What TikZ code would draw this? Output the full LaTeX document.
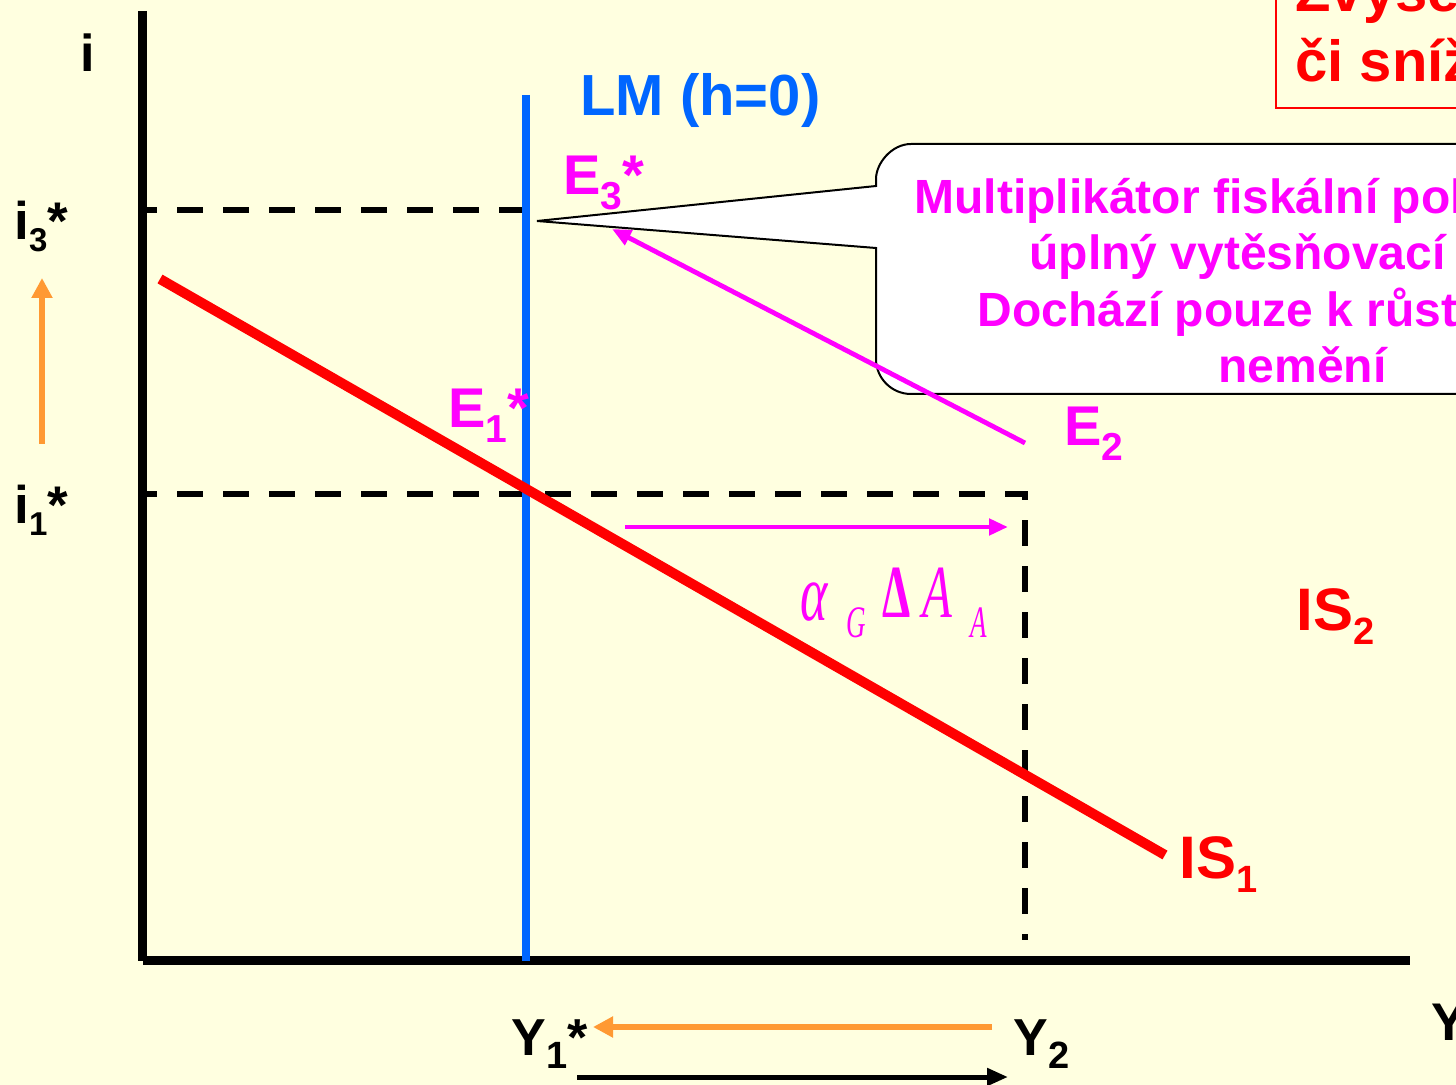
\documentclass[tikz,border=0pt]{standalone}
\usepackage{fontspec}
\setmainfont{Liberation Sans}
\newfontfamily\tms{Liberation Serif}
\usetikzlibrary{arrows.meta}
\definecolor{bgc}{HTML}{FFFFE0}
\definecolor{mag}{HTML}{FF00FF}
\definecolor{lmblue}{HTML}{0066FF}
\definecolor{orng}{HTML}{FF9933}
\definecolor{isred}{HTML}{FF0000}
\newcommand\fsz[1]{\fontsize{#1}{#1}\selectfont}
\begin{document}
\begin{tikzpicture}[x=0.5pt,y=-0.5pt,
  lab/.style={inner sep=0pt,anchor=base west,font=\bfseries},
  greek/.style={inner sep=0pt,anchor=base west,text=mag},
  axis/.style={line width=4.5pt,black},
  guide/.style={line width=3pt,black,dash pattern=on 13pt off 10pt,dash phase=8pt},
  magarrow/.style={draw=mag,line width=2.4pt,-{Triangle[length=9.5pt,width=8pt]}},
  orarrow/.style={draw=orng,line width=3pt,-{Triangle[length=10pt,width=10pt]}},
  blkarrow/.style={draw=black,line width=2.5pt,-{Triangle[length=10.5pt,width=8.5pt]}},
  callout/.style={draw=black,line width=1pt,fill=white},
]
\clip (0,0) rectangle (1456,1085);
\fill[bgc] (0,0) rectangle (1456,1085);

% red box top right
\draw[isred,line width=1pt] (1276,-20) rectangle (1480,108);
\node[lab,text=isred] (zv1) at (1295,12) {\fsz{29}Zvýšení};
\node[lab,text=isred] (zv2) at (1295,82) {\fsz{29}či snížení};

% callout
\draw[callout] (1480,144) -- (911,144) .. controls (891.7,144) and (876,163.3) .. (876,179)
  -- (876,186) -- (537,221) -- (876,248) -- (876,359)
  .. controls (876,378.3) and (891.7,394) .. (911,394) -- (1480,394) -- cycle;
\node[lab,text=mag] (c1) at (914,214) {\fsz{24}Multiplikátor fiskální politiky};
\node[lab,text=mag] (c2) at (1029,270) {\fsz{24}úplný vytěsňovací efekt};
\node[lab,text=mag] (c3) at (977,327) {\fsz{24}Dochází pouze k růstu};
\node[lab,text=mag] (c4) at (1218,383) {\fsz{24}nemění};

% coordinates
\coordinate (O) at (142.5,961);
\coordinate (Ytop) at (142.5,11);
\coordinate (Xs) at (143,960.5);
\coordinate (Xe) at (1410,960.5);
\coordinate (i3a) at (147,210);
\coordinate (i3b) at (526,210);
\coordinate (i1a) at (147,494);
\coordinate (i1b) at (1025,494);
\coordinate (Y2b) at (1025,940);
\coordinate (LMt) at (526,95);
\coordinate (LMb) at (526,961);
\coordinate (ISs) at (160,279);
\coordinate (ISe) at (1165,855);

% axes
\draw[axis] (Ytop) -- (O);
\draw[axis] (Xs) -- (Xe);

% guides
\draw[guide] (i3a) -- (i3b);
\draw[guide] (i1a) -- (i1b) -- (Y2b);

% LM and IS
\draw[lmblue,line width=4.25pt] (LMt) -- (LMb);
\draw[isred,line width=5pt] (ISs) -- (ISe);

% arrows
\coordinate (E2p) at (1025,443);
\coordinate (E3p) at (612,229);
\coordinate (sh1) at (625,527);
\coordinate (sh2) at (1008,527);
\coordinate (oi1) at (42,444);
\coordinate (oi3) at (42,278);
\coordinate (oy2) at (992,1027);
\coordinate (oy1) at (593,1027);
\coordinate (by1) at (577,1077);
\coordinate (by2) at (1008,1077);
\draw[magarrow] (E2p) -- (E3p);
\draw[magarrow] (sh1) -- (sh2);
\draw[orarrow] (oi1) -- (oi3);
\draw[orarrow] (oy2) -- (oy1);
\draw[blkarrow] (by1) -- (by2);

% labels
\node[lab] (il) at (80.5,72) {\fsz{26}i};
\node[lab] (i3) at (14,240) {\fsz{26.5}i\raisebox{-6pt}{\fsz{16.5}3}*};
\node[lab] (i1) at (14,523) {\fsz{26.5}i\raisebox{-6pt}{\fsz{16.5}1}*};
\node[lab,text=lmblue] (lm) at (580,116) {\fsz{29}LM (h=0)};
\node[lab,text=mag] (e3) at (563,195) {\fsz{28}E\raisebox{-7.5pt}{\fsz{19.5}3}*};
\node[lab,text=mag] (e1) at (448,428) {\fsz{28}E\raisebox{-7.5pt}{\fsz{19.5}1}*};
\node[lab,text=mag] (e2) at (1064,445) {\fsz{28}E\raisebox{-7.5pt}{\fsz{19.5}2}};
\node[lab,text=isred] (is1) at (1179,878) {\fsz{30}IS\raisebox{-7pt}{\fsz{19}1}};
\node[lab,text=isred] (is2) at (1296,630) {\fsz{30}IS\raisebox{-7pt}{\fsz{19}2}};
\node[lab] (y1) at (511,1055) {\fsz{26}Y\raisebox{-6.5pt}{\fsz{19}1}*};
\node[lab] (y2) at (1013,1055) {\fsz{26}Y\raisebox{-6.5pt}{\fsz{19}2}};
\node[lab] (yax) at (1431,1040) {\fsz{26.5}Y};

% alpha_G Delta A_A
\node[greek] (ga) at (800,620) {\scalebox{0.65}[1]{\fsz{40}\tms\itshape α}};
\node[greek] (gg) at (846,637) {\scalebox{0.6}[1]{\fsz{22.5}\tms\itshape G}};
\node[greek] (gd) at (882,617) {\scalebox{0.6}[1]{\fsz{37.5}\tms\bfseries Δ}};
\node[greek] (gA) at (922,617) {\scalebox{0.65}[1]{\fsz{37.5}\tms\itshape A}};
\node[greek] (gs) at (970,637) {\scalebox{0.6}[1]{\fsz{22.5}\tms\itshape A}};
\end{tikzpicture}
\end{document}
